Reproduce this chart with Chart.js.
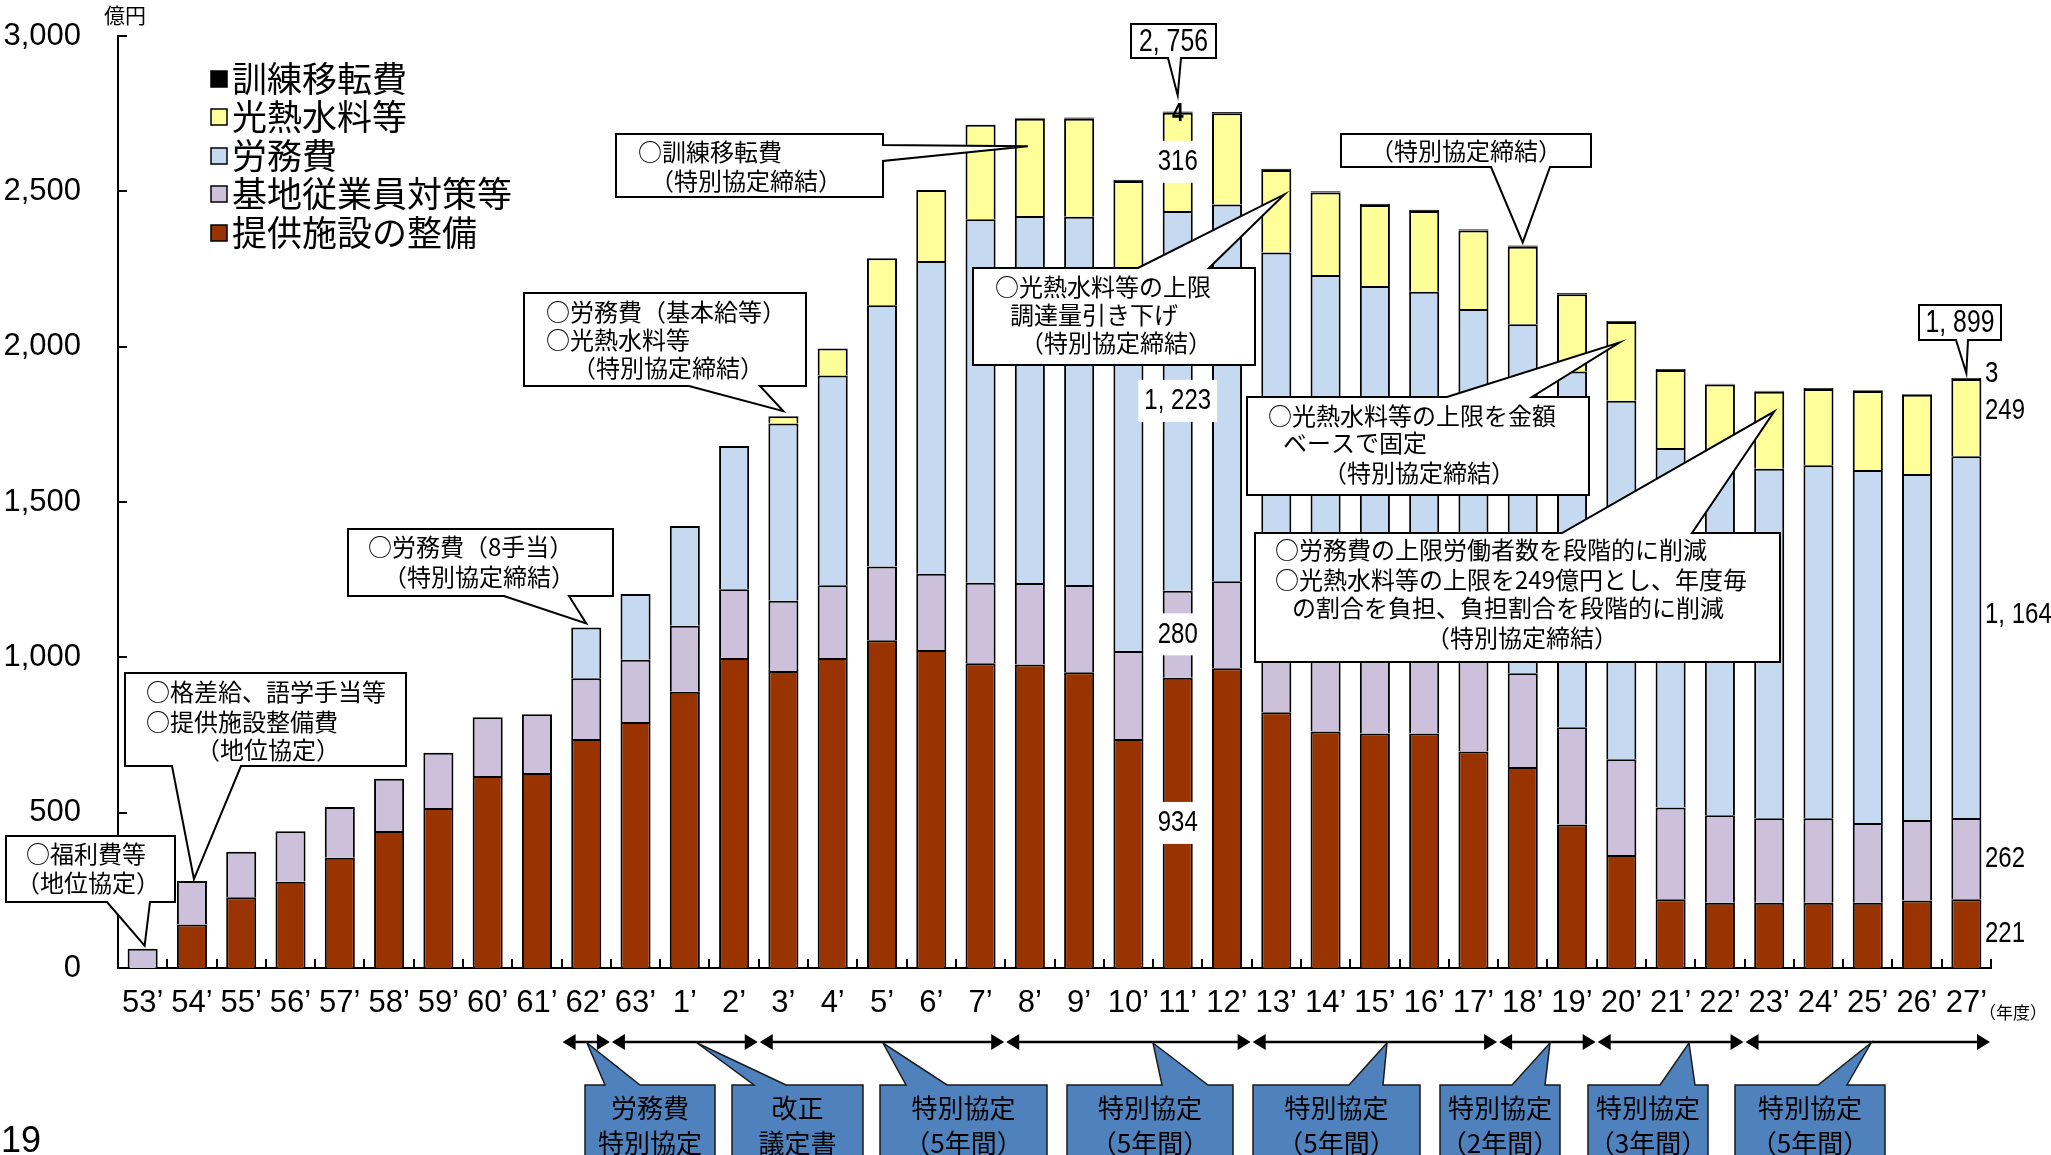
<!DOCTYPE html>
<html>
<head>
<meta charset="utf-8">
<script src="https://cdn.jsdelivr.net/npm/chart.js@4.4.1/dist/chart.umd.min.js"></script>
<style>
  html, body { margin: 0; padding: 0; background: #fff; }
  canvas { display: block; }
</style>
</head>
<body>
<canvas id="chart" width="2051" height="1155"></canvas>
<script>
// 年度（昭和53年度〜平成27年度）
const years = ["53’","54’","55’","56’","57’","58’","59’","60’","61’","62’","63’",
  "1’","2’","3’","4’","5’","6’","7’","8’","9’","10’","11’","12’","13’","14’",
  "15’","16’","17’","18’","19’","20’","21’","22’","23’","24’","25’","26’","27’"];

// 単位：億円
const facilities = [null,140,228,278,355,441,515,618,628,737,792,
  889,998,956,998,1055,1024,981,977,952,737,934,965,823,761,
  755,755,697,647,462,364,221,210,210,210,210,217,221];            // 提供施設の整備
const workerMeasures = [62,140,146,162,163,168,178,189,189,196,200,
  213,221,226,234,237,245,259,262,281,283,280,280,285,288,
  290,292,296,302,313,308,296,282,272,272,257,259,262];             // 基地従業員対策等
const labor = [null,null,null,null,null,null,null,null,null,163,212,
  321,461,571,675,841,1007,1170,1182,1185,1198,1223,1213,1195,1182,
  1150,1130,1128,1123,1145,1154,1157,1146,1125,1136,1136,1114,1164]; // 労務費
const utilities = [null,null,null,null,null,null,null,null,null,null,null,
  null,null,23,87,152,228,304,313,316,315,316,293,266,265,
  261,260,253,250,249,253,251,240,248,246,254,255,249];             // 光熱水料等
const training = [null,null,null,null,null,null,null,null,null,null,null,
  null,null,null,null,null,null,null,3,4,4,4,4,4,4,
  4,4,4,4,4,4,3,3,3,3,3,3,3];                                        // 訓練移転費

const seriesNames  = ['提供施設の整備', '基地従業員対策等', '労務費', '光熱水料等', '訓練移転費'];
const seriesValues = [facilities, workerMeasures, labor, utilities, training];
const seriesColors = ['#993300', '#CCC0DA', '#C5D9F1', '#FFFF99', '#000000'];

const yTicks = [0, 500, 1000, 1500, 2000, 2500, 3000];
const totals = [{ i: 21, value: 2756 }, { i: 37, value: 1899 }];

const NARROW = "'Liberation Sans Narrow', 'Arial Narrow', 'Liberation Sans', sans-serif";
const SANS = "'Liberation Sans', Arial, sans-serif";
const JP = "'Noto Sans CJK JP', 'Noto Sans', sans-serif";

function fmtNum(v) {
  if (v >= 1000) return Math.floor(v / 1000) + ', ' + String(v % 1000).padStart(3, '0');
  return String(v);
}
function fmtAxis(v) {
  return v >= 1000 ? Math.floor(v / 1000) + ',' + String(v % 1000).padStart(3, '0') : String(v);
}

// 吹き出し（白地・黒枠）
const callouts = [
  { box: [6, 836, 175, 902], edge: 'bottom', base: [107, 150], tip: { i: 0, v: 62, dx: 2, dy: -3 },
    lines: [['○福利費等', 26, 854], ['（地位協定）', 16, 883]] },
  { box: [125, 673, 406, 766], edge: 'bottom', base: [172, 241], tip: { i: 1, v: 280, dx: 2, dy: -2 },
    lines: [['○格差給、語学手当等', 146, 692], ['○提供施設整備費', 146, 722], ['（地位協定）', 196, 750]] },
  { box: [348, 529, 613, 596], edge: 'bottom', base: [504, 569], tip: { i: 9, v: 1096, dx: 0, dy: -4 },
    lines: [['○労務費（8手当）', 368, 547], ['（特別協定締結）', 383, 577]] },
  { box: [524, 293, 806, 386], edge: 'bottom', base: [689, 760], tip: { i: 13, v: 1776, dx: 0, dy: -5 },
    lines: [['○労務費（基本給等）', 546, 312], ['○光熱水料等', 546, 340], ['（特別協定締結）', 572, 368]] },
  { box: [616, 134, 883, 197], edge: 'right', base: [145, 161], tip: { i: 18, v: 2645, dx: -2, dy: 0 },
    lines: [['○訓練移転費', 638, 152], ['（特別協定締結）', 650, 181]] },
  { box: [973, 268, 1255, 365], edge: 'top', base: [1138, 1209], tip: { i: 23, v: 2490, dx: 8, dy: 0 },
    lines: [['○光熱水料等の上限', 995, 287], ['調達量引き下げ', 1010, 315], ['（特別協定締結）', 1020, 343]] },
  { box: [1341, 134, 1591, 167], edge: 'bottom', base: [1491, 1550], tip: { i: 28, v: 2326, dx: 0, dy: -3 },
    lines: [['（特別協定締結）', 1466, 151, 'center']] },
  { box: [1247, 397, 1589, 495], edge: 'top', base: [1447, 1532], tip: { i: 30, v: 2013, dx: -2, dy: 0 },
    lines: [['○光熱水料等の上限を金額', 1268, 416], ['ベースで固定', 1283, 443], ['（特別協定締結）', 1323, 473]] },
  { box: [1255, 533, 1780, 662], edge: 'top', base: [1562, 1692], tip: { i: 33, v: 1791, dx: 5, dy: 0 },
    lines: [['○労務費の上限労働者数を段階的に削減', 1275, 550],
            ['○光熱水料等の上限を249億円とし、年度毎', 1275, 580],
            ['の割合を負担、負担割合を段階的に削減', 1292, 608],
            ['（特別協定締結）', 1426, 638]] }
];

// 合計額の吹き出し
const totalBoxes = [
  { box: [1131, 24, 1216, 58], base: [1168, 1181], dy: -16 },
  { box: [1919, 305, 2001, 340], base: [1956, 1968], dy: -5 }
];

// 平成27年度ラベルの縦位置の微調整（px）
const lastLabelShift = [0, 0, -22, -7, -5];

// 協定期間（年度インデックス）
const periods = [
  { from: 9, to: 9 }, { from: 10, to: 12 }, { from: 13, to: 17 }, { from: 18, to: 22 },
  { from: 23, to: 27 }, { from: 28, to: 29 }, { from: 30, to: 32 }, { from: 33, to: 37 }
];
const periodBoxes = [
  { box: [585, 1085, 715, 1175], base: [605, 640], tipX: 587, lines: ['労務費', '特別協定'] },
  { box: [732, 1085, 863, 1175], base: [754, 786], tipX: 697, lines: ['改正', '議定書'] },
  { box: [880, 1085, 1047, 1175], base: [906, 947], tipX: 883, lines: ['特別協定', '（5年間）'] },
  { box: [1067, 1085, 1233, 1175], base: [1162, 1208], tipX: 1153, lines: ['特別協定', '（5年間）'] },
  { box: [1253, 1085, 1420, 1175], base: [1349, 1383], tipX: 1387, lines: ['特別協定', '（5年間）'] },
  { box: [1440, 1085, 1560, 1175], base: [1512, 1545], tipX: 1550, lines: ['特別協定', '（2年間）'] },
  { box: [1588, 1085, 1708, 1175], base: [1660, 1695], tipX: 1689, lines: ['特別協定', '（3年間）'] },
  { box: [1735, 1085, 1885, 1175], base: [1818, 1847], tipX: 1871, lines: ['特別協定', '（5年間）'] }
];

function bubblePath(ctx, b, edge, p1, p2, tx, ty) {
  const [x1, y1, x2, y2] = b;
  ctx.beginPath();
  ctx.moveTo(x1, y1);
  if (edge === 'top') { ctx.lineTo(p1, y1); ctx.lineTo(tx, ty); ctx.lineTo(p2, y1); }
  ctx.lineTo(x2, y1);
  if (edge === 'right') { ctx.lineTo(x2, p1); ctx.lineTo(tx, ty); ctx.lineTo(x2, p2); }
  ctx.lineTo(x2, y2);
  if (edge === 'bottom') { ctx.lineTo(p2, y2); ctx.lineTo(tx, ty); ctx.lineTo(p1, y2); }
  ctx.lineTo(x1, y2);
  ctx.closePath();
}

function drawText(ctx, str, x, y, font, align, color) {
  ctx.font = font;
  ctx.textAlign = align || 'left';
  ctx.textBaseline = 'middle';
  ctx.fillStyle = color || '#000';
  ctx.fillText(str, x, y);
}

// 横方向に詰めた数字（細字体の代わり）
const SQUEEZE = 0.8;
function narrowWidth(ctx, str, size) {
  ctx.font = `${size}px ${SANS}`;
  return ctx.measureText(str).width * SQUEEZE;
}
function drawNarrow(ctx, str, x, y, size, align, weight) {
  ctx.save();
  ctx.translate(x, y);
  ctx.scale(SQUEEZE, 1);
  drawText(ctx, str, 0, 0, `${weight || ''} ${size}px ${SANS}`, align);
  ctx.restore();
}

function stackTop(i, upTo) {
  let s = 0;
  for (let d = 0; d <= upTo; d++) s += seriesValues[d][i] || 0;
  return s;
}

const decorations = {
  id: 'decorations',
  afterDraw(chart) {
    const { ctx, chartArea: area, scales: { x, y } } = chart;
    const cat = x.getPixelForValue(1) - x.getPixelForValue(0);
    ctx.save();

    // 内向きの目盛り
    ctx.strokeStyle = '#000';
    ctx.lineWidth = 2;
    ctx.beginPath();
    yTicks.forEach(v => {
      const py = Math.round(y.getPixelForValue(v));
      ctx.moveTo(area.left, py); ctx.lineTo(area.left + 9, py);
    });
    for (let k = 1; k <= years.length; k++) {
      const px = Math.round(area.left + k * cat);
      ctx.moveTo(px, area.bottom); ctx.lineTo(px, area.bottom - 9);
    }
    ctx.stroke();

    // 単位
    drawText(ctx, '億円', 125, 15, `21px ${JP}`, 'center');
    drawText(ctx, '（年度）', 2013, 1013, `17px ${JP}`, 'center');
    drawText(ctx, '19', 1, 1142, `36px ${SANS}`, 'left');

    // 凡例
    const legendRows = [79, 117, 156, 194, 233];
    for (let r = 0; r < 5; r++) {
      const d = 4 - r;
      const cy = legendRows[r];
      ctx.fillStyle = seriesColors[d];
      ctx.fillRect(211, cy - 8, 16, 16);
      ctx.lineWidth = 1.5;
      ctx.strokeStyle = '#000';
      ctx.strokeRect(211, cy - 8, 16, 16);
      drawText(ctx, seriesNames[d], 232, cy, `35px ${JP}`, 'left');
    }

    // 吹き出し
    callouts.forEach(c => {
      const tx = x.getPixelForValue(c.tip.i) + c.tip.dx;
      const ty = y.getPixelForValue(c.tip.v) + c.tip.dy;
      bubblePath(ctx, c.box, c.edge, c.base[0], c.base[1], tx, ty);
      ctx.fillStyle = '#fff';
      ctx.fill();
      ctx.lineWidth = 2;
      ctx.strokeStyle = '#000';
      ctx.stroke();
      c.lines.forEach(l => drawText(ctx, l[0], l[1], l[2], `24px ${JP}`, l[3] || 'left'));
    });

    // 平成11年度の内訳（白地ラベル）
    const iPeak = 21;
    const px = x.getPixelForValue(iPeak);
    for (let d = 0; d < 4; d++) {
      const lo = d === 0 ? 0 : stackTop(iPeak, d - 1);
      const hi = stackTop(iPeak, d);
      const py = y.getPixelForValue((lo + hi) / 2);
      const t = fmtNum(seriesValues[d][iPeak]);
      const w = narrowWidth(ctx, t, 30) + 12;
      ctx.fillStyle = '#fff';
      ctx.fillRect(px - w / 2, py - 21, w, 42);
      drawNarrow(ctx, t, px, py, 30, 'center');
    }
    drawNarrow(ctx, fmtNum(training[iPeak]), px, y.getPixelForValue(stackTop(iPeak, 4)) + 2, 26, 'center', 'bold');

    // 平成27年度の内訳（右側ラベル）
    const iLast = 37;
    for (let d = 0; d < 5; d++) {
      const lo = d === 0 ? 0 : stackTop(iLast, d - 1);
      const hi = stackTop(iLast, d);
      const py = y.getPixelForValue((lo + hi) / 2) + lastLabelShift[d];
      drawNarrow(ctx, fmtNum(seriesValues[d][iLast]), 1985, py, 30, 'left');
    }

    // 合計額
    totals.forEach((t, k) => {
      const b = totalBoxes[k];
      const tx = x.getPixelForValue(t.i);
      const ty = y.getPixelForValue(stackTop(t.i, 4)) + b.dy;
      bubblePath(ctx, b.box, 'bottom', b.base[0], b.base[1], tx, ty);
      ctx.fillStyle = '#fff';
      ctx.fill();
      ctx.lineWidth = 2;
      ctx.strokeStyle = '#000';
      ctx.stroke();
      drawNarrow(ctx, fmtNum(t.value), (b.box[0] + b.box[2]) / 2, (b.box[1] + b.box[3]) / 2 + 1, 31, 'center');
    });

    // 協定期間の矢印
    const arrowY = 1042;
    ctx.fillStyle = '#000';
    ctx.strokeStyle = '#000';
    periods.forEach(p => {
      const xa = area.left + p.from * cat + 1;
      const xb = area.left + (p.to + 1) * cat - 1;
      ctx.lineWidth = 2.5;
      ctx.beginPath();
      ctx.moveTo(xa + 6, arrowY); ctx.lineTo(xb - 6, arrowY);
      ctx.stroke();
      ctx.beginPath();
      ctx.moveTo(xa, arrowY); ctx.lineTo(xa + 13, arrowY - 8); ctx.lineTo(xa + 13, arrowY + 8); ctx.closePath();
      ctx.moveTo(xb, arrowY); ctx.lineTo(xb - 13, arrowY - 8); ctx.lineTo(xb - 13, arrowY + 8); ctx.closePath();
      ctx.fill();
    });

    // 協定の種類（青い吹き出し）
    periodBoxes.forEach(pb => {
      bubblePath(ctx, pb.box, 'top', pb.base[0], pb.base[1], pb.tipX, arrowY + 1);
      ctx.fillStyle = '#4F81BD';
      ctx.fill();
      ctx.lineWidth = 1.5;
      ctx.strokeStyle = '#1a1a1a';
      ctx.stroke();
      const cx = (pb.box[0] + pb.box[2]) / 2;
      drawText(ctx, pb.lines[0], cx, 1108, `26px ${JP}`, 'center');
      drawText(ctx, pb.lines[1], cx, 1143, `26px ${JP}`, 'center');
    });

    ctx.restore();
  }
};

new Chart(document.getElementById('chart'), {
  type: 'bar',
  data: {
    labels: years,
    datasets: seriesValues.map((vals, d) => ({
      label: seriesNames[d],
      data: vals,
      backgroundColor: seriesColors[d],
      borderColor: '#000',
      borderWidth: 2,
      categoryPercentage: 1.0,
      barPercentage: 0.61
    }))
  },
  options: {
    responsive: false,
    animation: false,
    devicePixelRatio: 1,
    layout: { padding: { top: 36, right: 60, left: 0, bottom: 0 } },
    plugins: { legend: { display: false }, tooltip: { enabled: false } },
    scales: {
      x: {
        stacked: true,
        grid: { display: false, drawTicks: false },
        border: { display: true, color: '#000', width: 2 },
        ticks: {
          color: '#000', autoSkip: false, maxRotation: 0, minRotation: 0, padding: 17,
          font: { family: NARROW, size: 31 }
        },
        afterFit(scale) { scale.height = 187; }
      },
      y: {
        stacked: true,
        min: 0, max: 3000,
        grid: { display: false, drawTicks: false },
        border: { display: true, color: '#000', width: 2 },
        ticks: {
          stepSize: 500, color: '#000', padding: 37,
          font: { family: NARROW, size: 31 },
          callback: v => fmtAxis(v)
        },
        afterFit(scale) {
          scale.width = 118;
          scale.paddingTop = 0;
          scale.paddingBottom = 0;
        }
      }
    }
  },
  plugins: [decorations]
});
</script>
</body>
</html>
